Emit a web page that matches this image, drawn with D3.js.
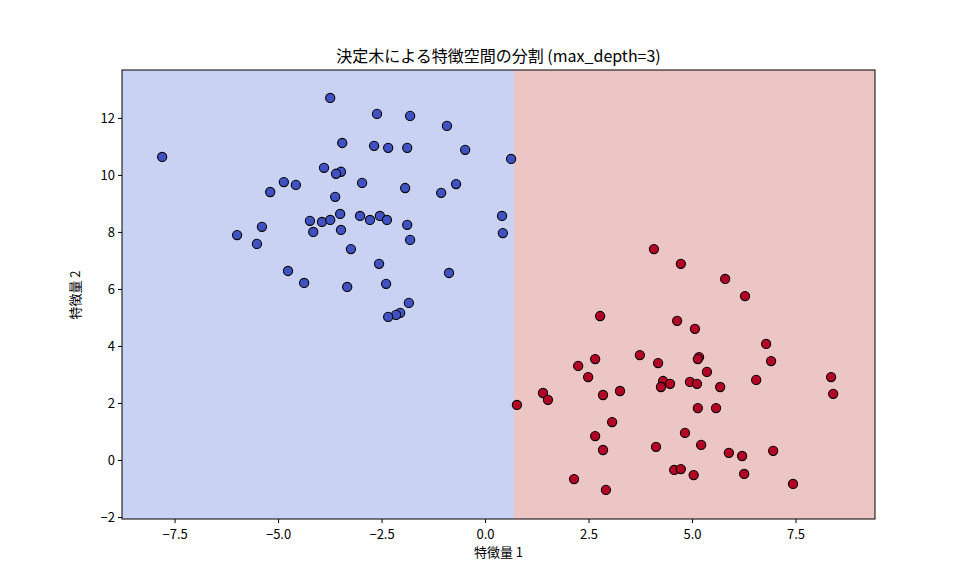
<!DOCTYPE html>
<html><head><meta charset="utf-8">
<script src="https://cdn.jsdelivr.net/npm/d3@7"></script>
<style>body{margin:0;background:#fff;font-family:"Noto Sans CJK JP","DejaVu Sans",sans-serif}</style>
</head><body><svg id="chart" width="972" height="583"></svg>
<script>
var blueX = [-7.80,-3.74,-2.61,-1.81,-0.92,-3.45,-2.68,-2.34,-1.88,-0.48,0.63,-3.89,-3.48,-3.60,-2.97,-4.86,-4.57,-5.19,-1.93,-1.06,-0.70,-3.62,-4.23,-3.94,-3.74,-3.50,-3.02,-2.78,-2.54,-2.37,-1.88,-3.48,-4.15,-5.39,-5.99,-5.51,-1.81,0.41,0.43,-3.24,-2.56,-4.76,-4.37,-3.33,-2.39,-0.87,-1.84,-2.05,-2.15,-2.34];
var blueY = [10.63,12.70,12.14,12.07,11.72,11.12,11.02,10.95,10.95,10.88,10.56,10.25,10.11,10.04,9.72,9.75,9.65,9.40,9.54,9.37,9.68,9.23,8.39,8.35,8.42,8.63,8.56,8.42,8.56,8.42,8.25,8.07,8.00,8.18,7.89,7.58,7.72,8.56,7.96,7.40,6.88,6.63,6.21,6.07,6.18,6.56,5.51,5.16,5.09,5.02];
var redX = [4.08,4.73,5.80,6.28,2.78,4.64,5.07,6.79,3.74,2.66,4.18,5.17,5.14,6.91,2.25,5.36,2.49,4.30,4.47,4.25,4.95,5.12,3.26,5.68,6.55,8.36,8.41,1.40,1.52,0.77,2.85,5.14,5.58,3.07,2.66,4.83,4.13,5.22,2.85,5.89,6.21,6.96,4.57,4.73,5.04,6.26,2.15,7.44,2.92];
var redY = [7.40,6.88,6.35,5.75,5.05,4.88,4.60,4.07,3.68,3.54,3.40,3.61,3.54,3.47,3.30,3.09,2.91,2.77,2.67,2.56,2.74,2.67,2.42,2.56,2.81,2.91,2.32,2.35,2.11,1.93,2.28,1.82,1.82,1.33,0.84,0.95,0.46,0.53,0.35,0.25,0.14,0.32,-0.35,-0.32,-0.53,-0.49,-0.67,-0.84,-1.05];
var xTicks = [-7.5,-5.0,-2.5,0.0,2.5,5.0,7.5];
var yTicks = [-2,0,2,4,6,8,10,12];
var xDomain = [-8.77,9.42], yDomain = [-2.07,13.68];
var split = 0.70;

var svg = d3.select("#chart");
var L=122,R=875,T=70,B=519;
var x = d3.scaleLinear().domain(xDomain).range([L,R]);
var y = d3.scaleLinear().domain(yDomain).range([B,T]);

svg.append("rect").attr("x",L).attr("y",T).attr("width",x(split)-L).attr("height",B-T).attr("fill","#c9d2f2");
svg.append("rect").attr("x",x(split)).attr("y",T).attr("width",R-x(split)).attr("height",B-T).attr("fill","#ecc6c4");

function pts(xs,ys,col){
	svg.append("g").selectAll("circle").data(d3.range(xs.length)).enter().append("circle")
		.attr("cx",function(i){return x(xs[i]);})
		.attr("cy",function(i){return y(ys[i]);})
		.attr("r",4.6).attr("fill",col).attr("stroke","#000").attr("stroke-width",1.1);
}
pts(blueX,blueY,"#4052c2");
pts(redX,redY,"#b40426");

svg.append("rect").attr("x",L).attr("y",T).attr("width",R-L).attr("height",B-T).attr("fill","none").attr("stroke","#000").attr("stroke-width",1);

var xa = svg.append("g").attr("transform","translate(0,"+B+")")
	.call(d3.axisBottom(x).tickValues(xTicks).tickFormat(d3.format(".1f")).tickSizeOuter(0).tickSize(4));
var ya = svg.append("g").attr("transform","translate("+L+",0)")
	.call(d3.axisLeft(y).tickValues(yTicks).tickSizeOuter(0).tickSize(4));
[xa,ya].forEach(function(a){
	a.select(".domain").remove();
	a.selectAll("text").attr("font-size",13).attr("fill","#000").attr("font-family","Noto Sans CJK JP");
	a.selectAll("line").attr("stroke","#000");
});
xa.selectAll("text").attr("dy","1.0em");

svg.append("text").attr("x",(L+R)/2).attr("y",62).attr("text-anchor","middle").attr("font-size",16)
	.text("決定木による特徴空間の分割 (max_depth=3)");
svg.append("text").attr("x",(L+R)/2).attr("y",557).attr("text-anchor","middle").attr("font-size",13).text("特徴量 1");
svg.append("text").attr("transform","translate(80,295) rotate(-90)").attr("text-anchor","middle").attr("font-size",13).text("特徴量 2");
</script></body></html>
